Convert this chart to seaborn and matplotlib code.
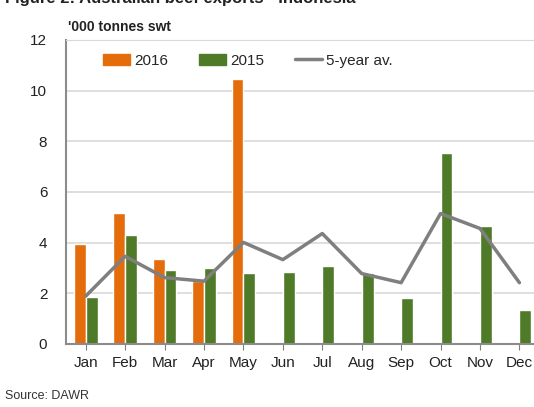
import numpy as np
import pandas as pd
import matplotlib
matplotlib.use('Agg')
import matplotlib.pyplot as plt
import seaborn as sns
from matplotlib.patches import Patch
from matplotlib.lines import Line2D

months = ['Jan', 'Feb', 'Mar', 'Apr', 'May', 'Jun', 'Jul', 'Aug', 'Sep', 'Oct', 'Nov', 'Dec']
exports_2016 = [3.95, 5.18, 3.35, 2.47, 10.45, np.nan, np.nan, np.nan, np.nan, np.nan, np.nan, np.nan]
exports_2015 = [1.85, 4.3, 2.94, 2.99, 2.8, 2.86, 3.06, 2.81, 1.83, 7.55, 4.66, 1.33]
five_year_av = [1.89, 3.46, 2.62, 2.48, 4.01, 3.33, 4.36, 2.78, 2.42, 5.15, 4.56, 2.42]

orange = '#E46C0A'
green = '#4F7B28'
grey = '#7F7F7F'

df = pd.DataFrame({
    'month': months * 2,
    'value': exports_2016 + exports_2015,
    'year': ['2016'] * 12 + ['2015'] * 12,
})

sns.set_style('white')
plt.rcParams['font.family'] = ['Liberation Sans', 'DejaVu Sans']

fig = plt.figure(figsize=(5.34, 4.07), dpi=100)
ax = fig.add_axes([0.1236, 0.1548, 0.886, 0.747])

# bars for the two years, 5-year average as a line on top
sns.barplot(data=df, x='month', y='value', hue='year', hue_order=['2016', '2015'],
            palette={'2016': orange, '2015': green}, width=0.6, dodge=True,
            saturation=1, ax=ax, legend=False)
sns.lineplot(x=np.arange(len(months)), y=five_year_av, color=grey, linewidth=2.5, ax=ax)

ax.set_ylim(0, 12)
ax.set_xlim(-0.5, 11.5)
ax.set_yticks(range(0, 13, 2))
ax.yaxis.grid(True, color='#D9D9D9', linewidth=1.2)
ax.set_axisbelow(True)
ax.set_xlabel('')
ax.set_ylabel('')
ax.tick_params(axis='both', labelsize=11, colors='#222222')
ax.tick_params(axis='x', bottom=True, length=4, color='#808080', pad=5)
ax.tick_params(axis='y', left=False, pad=10)
for s in ['left', 'bottom']:
    ax.spines[s].set_color('#8C8C8C')
    ax.spines[s].set_linewidth(1.5)
ax.spines['top'].set_color('#D9D9D9')
ax.spines['right'].set_visible(False)

handles = [Patch(color=orange), Patch(color=green), Line2D([0], [0], color=grey, lw=2.5)]
ax.legend(handles, ['2016', '2015', '5-year av.'], loc='upper left', bbox_to_anchor=(0.05, 1.0),
          ncol=3, frameon=False, fontsize=11, handlelength=1.75, handletextpad=0.3,
          columnspacing=2.0)

fig.text(0.127, 0.925, "'000 tonnes swt", fontsize=10, fontweight='bold', color='#222222')
fig.text(0.01, 0.985, 'Figure 2: Australian beef exports - Indonesia', fontsize=12,
         fontweight='bold', color='#222222', va='bottom')
fig.text(0.01, 0.02, 'Source: DAWR', fontsize=9, color='#333333')

fig.savefig('out.png', dpi=100)
